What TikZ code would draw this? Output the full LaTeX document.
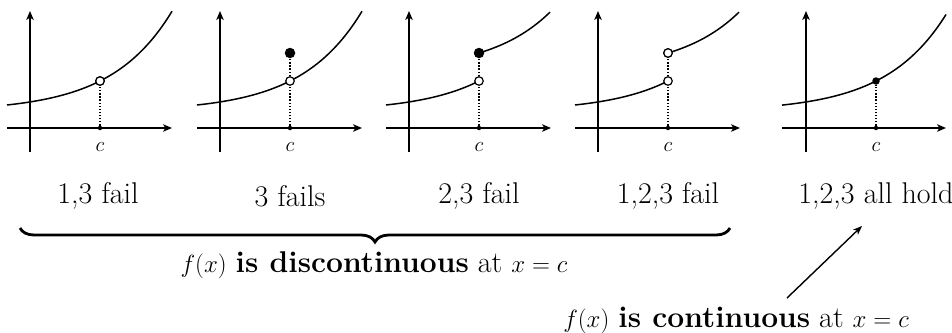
\documentclass[tikz,border=0pt]{standalone}
\usetikzlibrary{arrows.meta,decorations.pathreplacing}
\begin{document}
\begin{tikzpicture}[x=1pt,y=-1pt,
  axis/.style={line width=1.6pt,-{Stealth[length=9pt,width=7.5pt,inset=2.5pt]}},
  curve/.style={line width=1.5pt},
  guide/.style={line width=1.3pt,dash pattern=on 1.3pt off 1.8pt},
  hole/.style={circle,draw,fill=white,line width=1.2pt,inner sep=0pt,minimum size=8.5pt},
  bigdot/.style={circle,fill,inner sep=0pt,minimum size=10.5pt},
  smalldot/.style={circle,fill,inner sep=0pt,minimum size=7.5pt},
  tick/.style={circle,fill,inner sep=0pt,minimum size=4.5pt},
  clabel/.style={font=\fontsize{22}{26}\selectfont,anchor=base,inner sep=0pt},
  lbl/.style={font=\fontsize{30}{34}\selectfont,anchor=base,inner sep=0pt},
  pointer/.style={line width=1.4pt,-{Stealth[length=9pt,width=7pt,inset=2.5pt]}},
]
\useasboundingbox (0,0) rectangle (952,332);
\def\low#1{105-6.6*(exp(0.0165*(#1+23))-1)}
\def\up#1{105-(52+0.6*(6.6*(exp(0.0165*(#1+23))-1)-24))}

% Panel 1: 1,3 fail
\begin{scope}[xshift=30pt]
  \draw[axis] (-23,128) -- (142,128);
  \draw[axis] (0,152) -- (0,11);
  \draw[curve] plot[domain=-23:142,samples=60] (\x,{\low{\x}});
  \node[tick] (t1) at (70,128) {};
  \node[hole] (h1) at (70,81) {};
  \draw[guide] (t1) -- (h1);
  \node[hole] at (70,81) {};
  \node[clabel] (c1) at (70,151) {$c$};
\end{scope}

% Panel 2: 3 fails
\begin{scope}[xshift=220pt]
  \draw[axis] (-23,128) -- (142,128);
  \draw[axis] (0,152) -- (0,11);
  \draw[curve] plot[domain=-23:142,samples=60] (\x,{\low{\x}});
  \node[tick] (t2) at (70,128) {};
  \node[bigdot] (d2) at (70,53) {};
  \draw[guide] (t2) -- (d2);
  \node[hole] (h2) at (70,81) {};
  \node[clabel] (c2) at (70,151) {$c$};
\end{scope}

% Panel 3: 2,3 fail
\begin{scope}[xshift=409pt]
  \draw[axis] (-23,128) -- (142,128);
  \draw[axis] (0,152) -- (0,11);
  \draw[curve] plot[domain=-23:70,samples=40] (\x,{\low{\x}});
  \draw[curve] plot[domain=70:141,samples=40] (\x,{\up{\x}});
  \node[tick] (t3) at (70,128) {};
  \node[bigdot] (d3) at (70,53) {};
  \draw[guide] (t3) -- (d3);
  \node[hole] (h3) at (70,81) {};
  \node[clabel] (c3) at (70,151) {$c$};
\end{scope}

% Panel 4: 1,2,3 fail
\begin{scope}[xshift=598pt]
  \draw[axis] (-23,128) -- (142,128);
  \draw[axis] (0,152) -- (0,11);
  \draw[curve] plot[domain=-23:70,samples=40] (\x,{\low{\x}});
  \draw[curve] plot[domain=70:141,samples=40] (\x,{\up{\x}});
  \node[tick] (t4) at (70,128) {};
  \node[hole] (u4) at (70,53) {};
  \draw[guide] (t4) -- (u4);
  \node[hole] at (70,53) {};
  \node[hole] (h4) at (70,81) {};
  \node[clabel] (c4) at (70,151) {$c$};
\end{scope}

% Panel 5: all hold
\begin{scope}[xshift=806pt]
  \draw[axis] (-24,128) -- (140,128);
  \draw[axis] (0,152) -- (0,11);
  \draw[curve] plot[domain=-24:140,samples=60] (\x,{\low{\x}});
  \node[tick] (t5) at (70,128) {};
  \node[smalldot] (d5) at (70,81) {};
  \draw[guide] (t5) -- (d5);
  \node[clabel] (c5) at (70,151) {$c$};
\end{scope}

% Labels
\node[lbl] (l1) at (98,203) {1,3 fail};
\node[lbl] (l2) at (290,206) {3 fails};
\node[lbl] (l3) at (479,203) {2,3 fail};
\node[lbl] (l4) at (668,203) {1,2,3 fail};
\node[lbl] (l5) at (876,203) {1,2,3 all hold};

% Brace and discontinuous text
\coordinate (bl) at (20,228);
\coordinate (br) at (730,228);
\draw[line width=2.8pt,decorate,decoration={brace,mirror,amplitude=14pt}] (bl) -- (br);
\node[lbl] (disc) at (374,272) {$f(x)$ \textbf{is discontinuous} at $x=c$};

% Continuous text and arrow
\node[lbl] (cont) at (736,327) {$f(x)$ \textbf{is continuous} at $x=c$};
\coordinate (as) at (787,298);
\coordinate (ae) at (862,226);
\draw[pointer] (as) -- (ae);
\end{tikzpicture}
\end{document}
